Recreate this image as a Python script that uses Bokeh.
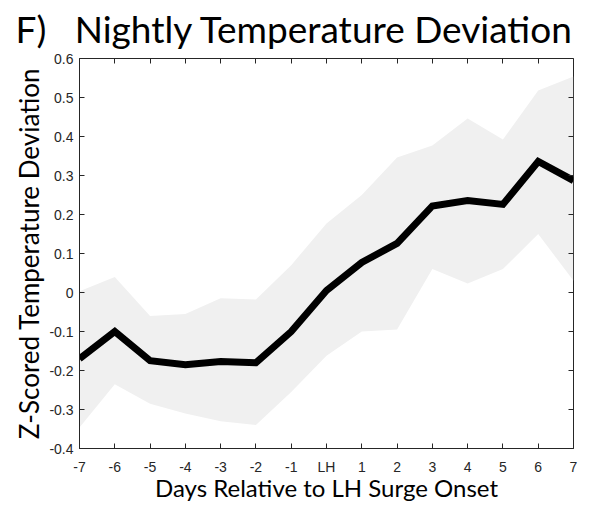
from bokeh.plotting import figure
from bokeh.models import FixedTicker, LinearAxis, Range1d, ColumnDataSource
from bokeh.embed import file_html
from bokeh.resources import INLINE

days = [-7, -6, -5, -4, -3, -2, -1, 0, 1, 2, 3, 4, 5, 6, 7]
day_labels = ["-7", "-6", "-5", "-4", "-3", "-2", "-1", "LH", "1", "2", "3", "4", "5", "6", "7"]
mean_dev = [-0.17, -0.10, -0.175, -0.185, -0.177, -0.18, -0.10, 0.005, 0.077, 0.126, 0.222, 0.236, 0.226, 0.336, 0.287]
upper_dev = [0.003, 0.04, -0.06, -0.055, -0.015, -0.018, 0.07, 0.177, 0.25, 0.346, 0.377, 0.446, 0.392, 0.518, 0.554]
lower_dev = [-0.346, -0.235, -0.285, -0.31, -0.33, -0.34, -0.255, -0.162, -0.10, -0.095, 0.06, 0.023, 0.06, 0.15, 0.03]
y_ticks = [-0.4, -0.3, -0.2, -0.1, 0.0, 0.1, 0.2, 0.3, 0.4, 0.5, 0.6]
title_text = "F)\u00a0\u00a0\u00a0Nightly Temperature Deviation"
x_title = "Days Relative to LH Surge Onset"
y_title = "Z-Scored Temperature Deviation"

AX = "#262626"
src = ColumnDataSource(dict(x=days, m=mean_dev, u=upper_dev, l=lower_dev))
x0, x1 = days[0], days[-1]
y0, y1 = y_ticks[0], y_ticks[-1]

p = figure(width=590, height=512, output_backend="svg", toolbar_location=None,
           x_range=Range1d(x0, x1), y_range=Range1d(y0, y1),
           min_border_left=79, min_border_right=17, min_border_bottom=64, min_border_top=58)
p.title.text = title_text
p.title.text_font = "Lato"
p.title.text_font_style = "normal"
p.title.text_font_size = "37px"
p.title.text_color = "black"
p.title.offset = -64
p.title.standoff = 11
p.title.vertical_align = "top"

p.varea(x="x", y1="l", y2="u", source=src, fill_color="#f0f0f0")
p.line(x="x", y="m", source=src, line_color="black", line_width=7, line_join="miter")

p.grid.visible = False
p.outline_line_color = AX
p.outline_line_width = 1

for ax in [p.xaxis[0], p.yaxis[0]]:
    ax.axis_line_color = AX
    ax.major_tick_line_color = AX
    ax.major_tick_in = 5
    ax.major_tick_out = 0
    ax.minor_tick_line_color = None
    ax.major_label_text_color = AX
    ax.major_label_text_font = "Liberation Sans"
    ax.major_label_text_font_size = "14px"
    ax.axis_label_text_font = "Lato"
    ax.axis_label_text_font_style = "normal"
    ax.axis_label_text_color = "black"

p.xaxis[0].ticker = FixedTicker(ticks=days)
p.xaxis[0].major_label_overrides = {d: lab for d, lab in zip(days, day_labels)}
p.xaxis[0].axis_label = x_title
p.xaxis[0].axis_label_text_font_size = "24px"
p.xaxis[0].major_label_standoff = 10
p.xaxis[0].axis_label_standoff = -5

p.yaxis[0].ticker = FixedTicker(ticks=y_ticks)
p.yaxis[0].major_label_overrides = {t: ("0" if t == 0 else f"{t:.1f}") for t in y_ticks}
p.yaxis[0].axis_label = y_title
p.yaxis[0].axis_label_text_font_size = "26px"
p.yaxis[0].major_label_standoff = 6
p.yaxis[0].axis_label_standoff = 1

top = LinearAxis(ticker=FixedTicker(ticks=days), fixed_location=y1, major_label_text_color=None,
                 major_tick_in=5, major_tick_out=0,
                 minor_tick_line_color=None, axis_line_color=AX, major_tick_line_color=AX)
right = LinearAxis(ticker=FixedTicker(ticks=y_ticks), fixed_location=x1, major_label_text_color=None,
                   major_tick_in=5, major_tick_out=0,
                   minor_tick_line_color=None, axis_line_color=AX, major_tick_line_color=AX)
p.add_layout(top, "above")
p.add_layout(right, "right")

open("out.html", "w").write(file_html(p, INLINE))
